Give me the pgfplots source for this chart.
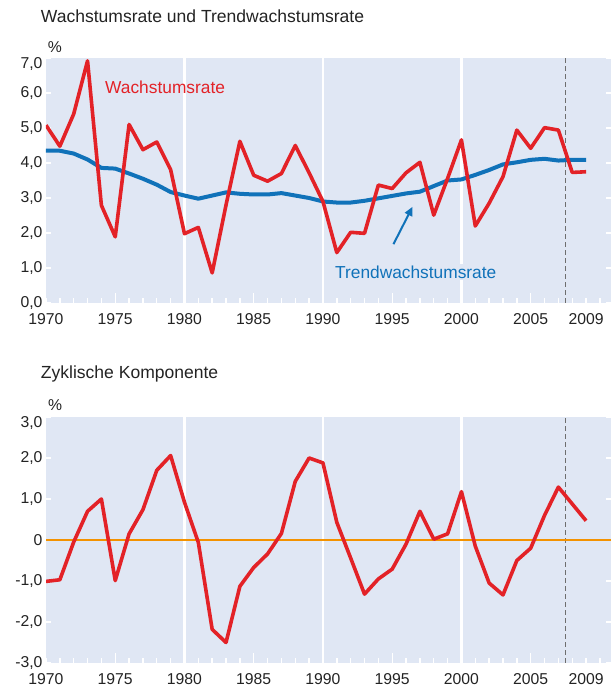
\documentclass[border=0pt]{standalone}
\usepackage{fontspec}
\setmainfont{Liberation Sans}
\usepackage{pgfplots}
\pgfplotsset{compat=1.18}
\usetikzlibrary{arrows.meta}
\definecolor{bgcol}{RGB}{224,231,244}
\definecolor{redc}{RGB}{227,34,39}
\definecolor{bluec}{RGB}{16,114,185}
\definecolor{orangec}{RGB}{243,146,0}
\definecolor{greyc}{RGB}{110,110,110}
\definecolor{txtcol}{RGB}{35,35,35}
\pgfplotsset{
  mystyle/.style={
    scale only axis,
    width=565bp,
    xmin=1970, xmax=2010.8,
    axis line style={draw=none},
    axis background/.style={fill=bgcol},
    tick align=inside,
    tick style={white, line width=1.4bp},
    major tick length=5bp,
    xtick pos=bottom,
    ytick pos=both,
    yticklabel pos=left,
    xtick={1970,1971,...,2010},
    xticklabels={1970,{},{},{},{},1975,{},{},{},{},1980,{},{},{},{},1985,{},{},{},{},1990,{},{},{},{},1995,{},{},{},{},2000,{},{},{},{},2005,{},{},{},2009,{}},
    extra x ticks={1975,1985,1995,2005},
    extra x tick labels={},
    extra x tick style={major tick length=10bp},
    tick label style={font=\fontsize{15.8}{18}\selectfont, text=txtcol},
    xticklabel style={yshift=-6.5bp},
    clip=true,
  }
}
\begin{document}
\begin{tikzpicture}
\useasboundingbox (0,0) rectangle (613bp,688bp);
\node[anchor=base west, inner sep=0pt, font=\fontsize{17.6}{20}\selectfont, text=txtcol] at (40.7bp,665.3bp) {Wachstumsrate und Trendwachstumsrate};
\node[anchor=base west, inner sep=0pt, font=\fontsize{15.8}{18}\selectfont, text=txtcol] at (47.7bp,635.3bp) {\%};
\begin{axis}[mystyle,
  at={(46bp,385bp)}, anchor=south west,
  height=245bp,
  ymin=0, ymax=7,
  ytick={0,1,...,7},
  yticklabels={{0,0},{1,0},{2,0},{3,0},{4,0},{5,0},{6,0},{\smash{\raisebox{-10.2bp}{7,0}}}},
]
\draw[white, line width=2.5bp] (axis cs:1980,0) -- (axis cs:1980,7);
\draw[white, line width=2.5bp] (axis cs:1990,0) -- (axis cs:1990,7);
\draw[white, line width=2.5bp] (axis cs:2000,0) -- (axis cs:2000,7);
\draw[greyc, line width=1.1bp, dash pattern=on 5bp off 3bp] (axis cs:2007.5,0) -- (axis cs:2007.5,7);
\node[fill=bgcol, inner sep=2bp, text=bluec, font=\fontsize{17.4}{20}\selectfont] at (axis cs:1996.7,0.886) {Trendwachstumsrate};
\node[inner sep=0pt, text=redc, font=\fontsize{17.4}{20}\selectfont] at (axis cs:1978.6,6.17) {Wachstumsrate};
\draw[bluec, line width=2bp, -{Triangle[length=9bp,width=8bp]}] (axis cs:1995.09,1.68) -- (axis cs:1996.47,2.75);
\addplot[bluec, line width=4bp, line join=round] coordinates {
(1970,4.35) (1971,4.35) (1972,4.27) (1973,4.10) (1974,3.86) (1975,3.84)
(1976,3.70) (1977,3.55) (1978,3.38) (1979,3.17) (1980,3.07) (1981,2.98)
(1982,3.07) (1983,3.16) (1984,3.12) (1985,3.10) (1986,3.10) (1987,3.14)
(1988,3.07) (1989,3.00) (1990,2.90) (1991,2.87) (1992,2.87) (1993,2.92)
(1994,2.99) (1995,3.06) (1996,3.13) (1997,3.18) (1998,3.34) (1999,3.50)
(2000,3.53) (2001,3.66) (2002,3.80) (2003,3.96) (2004,4.02) (2005,4.09)
(2006,4.12) (2007,4.07) (2008,4.09) (2009,4.09)
};
\addplot[redc, line width=3.6bp, line join=round] coordinates {
(1970,5.08) (1971,4.48) (1972,5.40) (1973,6.92) (1974,2.79) (1975,1.89)
(1976,5.10) (1977,4.38) (1978,4.60) (1979,3.81) (1980,1.98) (1981,2.16)
(1982,0.86) (1983,2.80) (1984,4.62) (1985,3.65) (1986,3.48) (1987,3.70)
(1988,4.50) (1989,3.72) (1990,2.90) (1991,1.44) (1992,2.02) (1993,1.99)
(1994,3.37) (1995,3.27) (1996,3.72) (1997,4.02) (1998,2.51) (1999,3.56)
(2000,4.66) (2001,2.20) (2002,2.85) (2003,3.61) (2004,4.94) (2005,4.42)
(2006,5.01) (2007,4.94) (2008,3.73) (2009,3.75)
};
\end{axis}
\node[anchor=base west, inner sep=0pt, font=\fontsize{17.6}{20}\selectfont, text=txtcol] at (40.7bp,309bp) {Zyklische Komponente};
\node[anchor=base west, inner sep=0pt, font=\fontsize{15.8}{18}\selectfont, text=txtcol] at (48bp,277.3bp) {\%};
\begin{axis}[mystyle,
  at={(46bp,25bp)}, anchor=south west,
  height=246bp,
  ymin=-3, ymax=3,
  ytick={-3,-2,...,3},
  yticklabels={{-3,0},{-2,0},{-1,0},0,{1,0},{2,0},{\smash{\raisebox{-10.2bp}{3,0}}}},
]
\draw[white, line width=2.5bp] (axis cs:1980,-3) -- (axis cs:1980,3);
\draw[white, line width=2.5bp] (axis cs:1990,-3) -- (axis cs:1990,3);
\draw[white, line width=2.5bp] (axis cs:2000,-3) -- (axis cs:2000,3);
\draw[greyc, line width=1.1bp, dash pattern=on 5bp off 3bp] (axis cs:2007.5,-3) -- (axis cs:2007.5,3);
\addplot[orangec, line width=2bp] coordinates {(1970,0) (2010.8,0)};
\addplot[redc, line width=3.6bp, line join=round] coordinates {
(1970,-1.01) (1971,-0.97) (1972,-0.05) (1973,0.70) (1974,1.00) (1975,-0.99)
(1976,0.15) (1977,0.74) (1978,1.70) (1979,2.06) (1980,0.92) (1981,-0.06)
(1982,-2.18) (1983,-2.50) (1984,-1.13) (1985,-0.67) (1986,-0.34) (1987,0.16)
(1988,1.43) (1989,2.00) (1990,1.88) (1991,0.43) (1992,-0.44) (1993,-1.32)
(1994,-0.95) (1995,-0.71) (1996,-0.10) (1997,0.70) (1998,0.02) (1999,0.15)
(2000,1.18) (2001,-0.15) (2002,-1.05) (2003,-1.34) (2004,-0.50) (2005,-0.20)
(2006,0.60) (2007,1.29) (2008,0.88) (2009,0.47)
};
\end{axis}
\end{tikzpicture}
\end{document}
